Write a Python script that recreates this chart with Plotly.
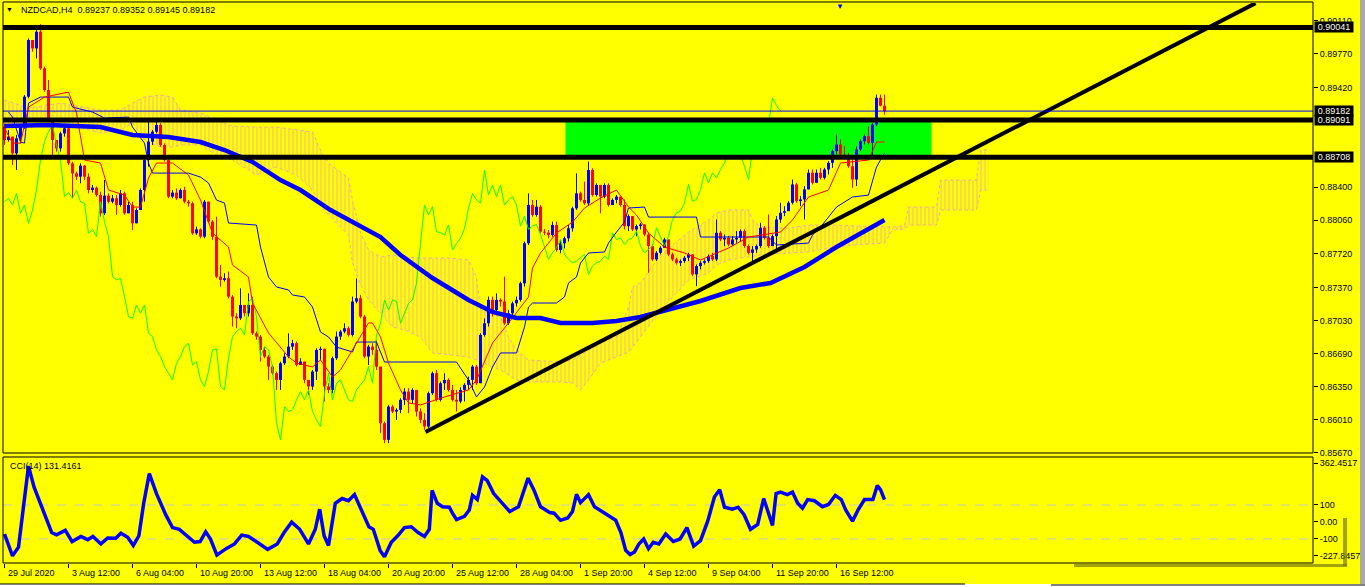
import plotly.graph_objects as go

# ---------------- data ----------------
first_open = 0.89022
closes = [
    0.88885, 0.88919, 0.88748, 0.88902, 0.89022, 0.89330, 0.89912, 0.89826, 0.89997, 0.89621,
    0.89398, 0.89090, 0.88885, 0.88799, 0.88953, 0.89005, 0.88645, 0.88542, 0.88508, 0.88621,
    0.88508, 0.88371, 0.88395, 0.88320, 0.88132, 0.88313, 0.88251, 0.88286, 0.88217, 0.88337,
    0.88132, 0.88217, 0.88029, 0.88166, 0.88371, 0.88679, 0.88868, 0.88970, 0.89039, 0.88833,
    0.88679, 0.88303, 0.88344, 0.88286, 0.88371, 0.88251, 0.88234, 0.87926, 0.87967, 0.87892,
    0.88251, 0.88046, 0.87892, 0.87481, 0.87447, 0.87464, 0.87276, 0.87071, 0.87053, 0.87190,
    0.87105, 0.87190, 0.86899, 0.86865, 0.86728, 0.86660, 0.86557, 0.86489, 0.86420, 0.86591,
    0.86660, 0.86762, 0.86797, 0.86574, 0.86608, 0.86420, 0.86352, 0.86506, 0.86728, 0.86740,
    0.86352, 0.86317, 0.86643, 0.86865, 0.86917, 0.86951, 0.86882, 0.87225, 0.87259, 0.87071,
    0.86660, 0.86762, 0.86728, 0.86557, 0.85975, 0.85804, 0.86146, 0.86095, 0.86112, 0.86215,
    0.86300, 0.86215, 0.86317, 0.86095, 0.86009, 0.85941, 0.86283, 0.86489, 0.86215, 0.86386,
    0.86420, 0.86317, 0.86215, 0.86198, 0.86317, 0.86369, 0.86420, 0.86557, 0.86386, 0.86882,
    0.87002, 0.87242, 0.87139, 0.87242, 0.87225, 0.87002, 0.87105, 0.87207, 0.87242, 0.87413,
    0.87824, 0.88217, 0.88115, 0.88200, 0.87943, 0.87933, 0.87909, 0.88012, 0.87755, 0.87824,
    0.87875, 0.87978, 0.88183, 0.88337, 0.88269, 0.88234, 0.88577, 0.88320, 0.88423, 0.88303,
    0.88423, 0.88217, 0.88269, 0.88303, 0.88217, 0.88000, 0.88103, 0.87966, 0.88000, 0.88017,
    0.87914, 0.87795, 0.87658, 0.87726, 0.87777, 0.87863, 0.87709, 0.87658, 0.87623, 0.87641,
    0.87675, 0.87709, 0.87504, 0.87589, 0.87623, 0.87641, 0.87692, 0.87658, 0.87931, 0.87863,
    0.87880, 0.87812, 0.87863, 0.87880, 0.87949, 0.87795, 0.87726, 0.87760, 0.87795, 0.87983,
    0.87880, 0.87795, 0.87897, 0.88068, 0.88137, 0.88154, 0.88240, 0.88428, 0.88257, 0.88274,
    0.88377, 0.88548, 0.88445, 0.88548, 0.88496, 0.88582, 0.88650, 0.88770, 0.88838, 0.88736,
    0.88726, 0.88616, 0.88479, 0.88787, 0.88873, 0.88924, 0.88856, 0.89044, 0.89318, 0.89237,
    0.89182,
]
highs = [
    0.89056, 0.88987, 0.88902, 0.88936, 0.89039, 0.89347, 0.89929, 0.89877, 0.90049, 0.90076,
    0.89638, 0.89501, 0.88987, 0.88885, 0.88970, 0.89022, 0.89039, 0.88662, 0.88560, 0.88645,
    0.88628, 0.88542, 0.88423, 0.88406, 0.88354, 0.88474, 0.88337, 0.88320, 0.88320, 0.88371,
    0.88354, 0.88251, 0.88251, 0.88183, 0.88388, 0.88696, 0.89090, 0.88987, 0.89107, 0.89056,
    0.88850, 0.88696, 0.88371, 0.88388, 0.88388, 0.88406, 0.88269, 0.88251, 0.87995, 0.87978,
    0.88269, 0.88251, 0.88063, 0.88097, 0.87601, 0.87516, 0.87533, 0.87293, 0.87105, 0.87361,
    0.87190, 0.87310, 0.87276, 0.86917, 0.86882, 0.86762, 0.86677, 0.86574, 0.86506, 0.86608,
    0.86694, 0.86899, 0.86831, 0.86814, 0.86643, 0.86608, 0.86420, 0.86523, 0.86745, 0.86762,
    0.86728, 0.86386, 0.86660, 0.86917, 0.86934, 0.87002, 0.86968, 0.87276, 0.87464, 0.87293,
    0.87088, 0.86780, 0.86797, 0.86831, 0.86386, 0.85992, 0.86163, 0.86163, 0.86129, 0.86232,
    0.86335, 0.86335, 0.86335, 0.86232, 0.86129, 0.86078, 0.86300, 0.86506, 0.86523, 0.86403,
    0.86489, 0.86437, 0.86369, 0.86317, 0.86345, 0.86386, 0.86454, 0.86574, 0.86574, 0.86899,
    0.87053, 0.87276, 0.87276, 0.87310, 0.87259, 0.87481, 0.87139, 0.87225, 0.87276, 0.87430,
    0.87841, 0.88337, 0.88269, 0.88269, 0.88217, 0.87971, 0.87960, 0.88046, 0.88046, 0.87858,
    0.87892, 0.88012, 0.88200, 0.88542, 0.88354, 0.88457, 0.88662, 0.88594, 0.88440, 0.88423,
    0.88440, 0.88440, 0.88286, 0.88320, 0.88303, 0.88274, 0.88120, 0.88068, 0.88017, 0.88034,
    0.88017, 0.87931, 0.87812, 0.87743, 0.87795, 0.87880, 0.87863, 0.87726, 0.87675, 0.87658,
    0.87692, 0.87726, 0.87709, 0.87606, 0.87641, 0.87658, 0.87709, 0.87726, 0.88068, 0.87949,
    0.87914, 0.87897, 0.87897, 0.87949, 0.87966, 0.87966, 0.87812, 0.87795, 0.87812, 0.88034,
    0.88000, 0.88120, 0.87914, 0.88103, 0.88240, 0.88205, 0.88257, 0.88479, 0.88445, 0.88308,
    0.88411, 0.88582, 0.88582, 0.88582, 0.88599, 0.88599, 0.88667, 0.88787, 0.88941, 0.88890,
    0.88821, 0.88753, 0.88685, 0.88821, 0.88890, 0.88941, 0.89027, 0.89061, 0.89352, 0.89352,
    0.89352,
]
lows = [
    0.88833, 0.88868, 0.88628, 0.88577, 0.88850, 0.89000, 0.89313, 0.89792, 0.89723, 0.89604,
    0.89381, 0.89073, 0.88714, 0.88765, 0.88765, 0.88919, 0.88628, 0.88286, 0.88474, 0.88440,
    0.88474, 0.88337, 0.88344, 0.88303, 0.88097, 0.88115, 0.88234, 0.88234, 0.88115, 0.88200,
    0.88115, 0.88149, 0.87961, 0.88029, 0.88166, 0.88251, 0.88611, 0.88833, 0.88953, 0.88816,
    0.88662, 0.88286, 0.88286, 0.88269, 0.88286, 0.88234, 0.88200, 0.87909, 0.87909, 0.87875,
    0.87875, 0.88029, 0.87858, 0.87464, 0.87379, 0.87430, 0.87259, 0.86968, 0.86951, 0.87036,
    0.87071, 0.87071, 0.86882, 0.86831, 0.86608, 0.86643, 0.86420, 0.86472, 0.86317, 0.86317,
    0.86574, 0.86643, 0.86728, 0.86557, 0.86574, 0.86386, 0.86266, 0.86317, 0.86420, 0.86626,
    0.86198, 0.86283, 0.86283, 0.86626, 0.86831, 0.86899, 0.86865, 0.86865, 0.87207, 0.87053,
    0.86643, 0.86574, 0.86677, 0.86523, 0.85873, 0.85770, 0.85770, 0.86078, 0.86009, 0.86078,
    0.86163, 0.86078, 0.86180, 0.86044, 0.85975, 0.85907, 0.85924, 0.86266, 0.86198, 0.86198,
    0.86317, 0.86300, 0.86198, 0.86095, 0.86180, 0.86198, 0.86317, 0.86317, 0.86369, 0.86386,
    0.86865, 0.86968, 0.87071, 0.87105, 0.87173, 0.86985, 0.86985, 0.87071, 0.87173, 0.87225,
    0.87379, 0.87806, 0.88097, 0.88097, 0.87926, 0.87909, 0.87875, 0.87892, 0.87738, 0.87721,
    0.87772, 0.87841, 0.87943, 0.88166, 0.88251, 0.88217, 0.88217, 0.88303, 0.88303, 0.88132,
    0.88286, 0.88200, 0.88217, 0.88234, 0.88200, 0.87966, 0.87949, 0.87949, 0.87897, 0.87966,
    0.87897, 0.87521, 0.87641, 0.87641, 0.87709, 0.87777, 0.87692, 0.87641, 0.87606, 0.87589,
    0.87623, 0.87641, 0.87487, 0.87384, 0.87555, 0.87606, 0.87623, 0.87641, 0.87641, 0.87846,
    0.87795, 0.87795, 0.87795, 0.87829, 0.87846, 0.87777, 0.87709, 0.87606, 0.87726, 0.87777,
    0.87863, 0.87777, 0.87795, 0.87760, 0.88034, 0.88103, 0.88154, 0.88223, 0.88240, 0.88205,
    0.88068, 0.88377, 0.88428, 0.88445, 0.88479, 0.88479, 0.88531, 0.88599, 0.88736, 0.88719,
    0.88702, 0.88599, 0.88394, 0.88411, 0.88770, 0.88839, 0.88839, 0.88719, 0.89027, 0.89232,
    0.89145,
]

tenkan_bar = [0, 2, 4, 6, 10, 16, 18, 20, 24, 26, 30, 32, 34, 36, 38, 42, 46, 49, 52, 56,
              57, 61, 62, 66, 71, 73, 77, 79, 82, 84, 88, 91, 92, 94, 96, 99, 101, 104, 110, 116,
              118, 122, 126, 129, 131, 132, 134, 138, 142, 145, 149, 153, 156, 158, 161, 165, 170, 174, 177, 181,
              186, 194, 197, 201, 206, 209, 216, 218, 220]
tenkan_val = [0.89007, 0.88853, 0.88853, 0.89223, 0.89326, 0.89377, 0.89161, 0.88679, 0.88648, 0.88371,
              0.88319, 0.88196, 0.88196, 0.88494, 0.88648, 0.88648, 0.88525, 0.88268, 0.87929, 0.87785,
              0.87600, 0.87477, 0.87210, 0.86902, 0.86656, 0.86594, 0.86553, 0.86625, 0.86450, 0.86522,
              0.86799, 0.87005, 0.87005, 0.86861, 0.86594, 0.86317, 0.86183, 0.86163, 0.86245, 0.86317,
              0.86419, 0.86799, 0.87005, 0.87169, 0.87272, 0.87570, 0.87724, 0.87929, 0.88042, 0.88186,
              0.88289, 0.88371, 0.88196, 0.88114, 0.87929, 0.87785, 0.87724, 0.87652, 0.87703, 0.87775,
              0.87888, 0.87939, 0.88063, 0.88299, 0.88371, 0.88648, 0.88679, 0.88864, 0.88864]

kijun_bar = [1, 2, 4, 5, 6, 9, 16, 17, 22, 25, 31, 32, 35, 36, 37, 46, 49, 51, 53, 55,
             56, 63, 64, 66, 68, 71, 72, 75, 77, 79, 81, 83, 87, 88, 93, 94, 95, 113, 116, 118,
             120, 122, 124, 128, 130, 131, 132, 138, 140, 141, 143, 144, 146, 150, 151, 153, 155, 156, 160, 161,
             173, 174, 191, 193, 201, 202, 204, 206, 208, 212, 216, 218, 220]
kijun_val = [0.89172, 0.89120, 0.88864, 0.88853, 0.89264, 0.89326, 0.89326, 0.89223, 0.89172, 0.89110,
             0.89120, 0.89018, 0.88853, 0.88648, 0.88545, 0.88545, 0.88504, 0.88443, 0.88268, 0.88237,
             0.88032, 0.88011, 0.87785, 0.87477, 0.87375, 0.87344, 0.87292, 0.87272, 0.87169, 0.86912,
             0.86861, 0.86758, 0.86707, 0.86809, 0.86809, 0.86707, 0.86604, 0.86604, 0.86419, 0.86245,
             0.86347, 0.86553, 0.86697, 0.86697, 0.86964, 0.87169, 0.87210, 0.87210, 0.87272, 0.87416,
             0.87477, 0.87621, 0.87724, 0.87734, 0.87826, 0.87939, 0.88042, 0.88186, 0.88196, 0.88093,
             0.88093, 0.87888, 0.87888, 0.87806, 0.87826, 0.87908, 0.87991, 0.88093, 0.88196, 0.88299,
             0.88319, 0.88607, 0.88751]

ma_bar = [0, 11, 24, 32, 41, 49, 55, 62, 69, 74, 81.5, 94, 99, 107, 116, 122, 128, 134, 139, 147,
          153, 159, 174, 184, 191.5, 200, 208, 216.5, 220]
ma_val = [0.89028, 0.89038, 0.89018, 0.88936, 0.88915, 0.88864, 0.88782, 0.88660, 0.88473, 0.88371,
          0.88165, 0.87888, 0.87703, 0.87467, 0.87241, 0.87118, 0.87056, 0.87056, 0.87005, 0.87005,
          0.87025, 0.87066, 0.87231, 0.87364, 0.87416, 0.87580, 0.87785, 0.87991, 0.88063]

cloud_bar = [0, 6, 14, 24, 29, 32, 35, 39, 42, 44, 49, 53, 57, 63, 68, 73, 77, 79, 81, 86,
             87, 89, 91, 94, 97, 100, 104, 107, 111, 116, 118, 119, 124, 126, 128, 131, 139, 142, 144, 146,
             149, 153, 156, 157, 159, 164, 171, 176, 178, 181, 186, 187, 189, 196, 201, 206, 212, 220, 222, 225,
             226, 233, 234, 243, 244, 246]
cloud_top = [0.89295, 0.89213, 0.89264, 0.89192, 0.89192, 0.89264, 0.89326, 0.89346, 0.89326, 0.89192,
             0.89161, 0.89090, 0.89028, 0.89018, 0.89018, 0.88987, 0.88966, 0.88782, 0.88648, 0.88494,
             0.88268, 0.87929, 0.87755, 0.87683, 0.87703, 0.87683, 0.87672, 0.87672, 0.87672, 0.87652,
             0.87477, 0.87138, 0.87066, 0.86861, 0.86727, 0.86625, 0.86604, 0.86625, 0.86676, 0.86727,
             0.86799, 0.86861, 0.87169, 0.87375, 0.87416, 0.87703, 0.87939, 0.88063, 0.88134, 0.88165,
             0.88165, 0.88063, 0.87991, 0.87980, 0.88011, 0.88011, 0.88001, 0.87991, 0.87991, 0.88001,
             0.88196, 0.88196, 0.88473, 0.88473, 0.88782, 0.88782]
cloud_bot = [0.89038, 0.89090, 0.89069, 0.88956, 0.88987, 0.89059, 0.88884, 0.88812, 0.88812, 0.88833,
             0.88833, 0.88730, 0.88679, 0.88525, 0.88607, 0.88525, 0.88371, 0.88217, 0.88114, 0.87908,
             0.87621, 0.87395, 0.87241, 0.87107, 0.86964, 0.86933, 0.86861, 0.86697, 0.86676, 0.86656,
             0.86625, 0.86604, 0.86522, 0.86471, 0.86419, 0.86399, 0.86399, 0.86389, 0.86317, 0.86419,
             0.86594, 0.86656, 0.86707, 0.86758, 0.86861, 0.87138, 0.87446, 0.87518, 0.87600, 0.87652,
             0.87683, 0.87693, 0.87703, 0.87724, 0.87734, 0.87775, 0.87806, 0.87826, 0.87960, 0.87970,
             0.88011, 0.88011, 0.88165, 0.88165, 0.88371, 0.88371]

chikou_shift = 26

cci_bar = [0, 2, 3.5, 4.5, 6, 7.4, 9.6, 11.8, 13, 15.2,
           16.9, 19.1, 20.8, 22.1, 24.1, 25.8, 27.8, 29.1, 30.8, 32.2,
           33.6, 34.8, 36.2, 38, 40.3, 42, 43.7, 45.9, 47.5, 48.9,
           50.3, 51.5, 53.1, 55.4, 57.5, 59.3, 61, 63.2, 65.8, 68.2,
           69.9, 71.8, 73.8, 76, 77.7, 78.8, 79.9, 81, 82.7, 84.4,
           86, 87.5, 89.4, 91.1, 92.2, 93.9, 95, 96.7, 98.3, 100,
           101.7, 103.4, 105, 106.2, 106.9, 108.2, 109.5, 111.2, 112, 113,
           115, 116.2, 117, 118.2, 119.5, 120.7, 122.3, 124.5, 126.3, 128.5,
           129.5, 130.9, 132.4, 134, 136.3, 137.4, 139, 140.8, 142, 143,
           144, 145.3, 146, 147.5, 149.7, 151.3, 152.8, 154.1, 155.3, 156.4,
           157.5, 158.6, 159.8, 161, 162.2, 163.6, 165.3, 167.2, 168.9, 170.6,
           172.3, 174, 175.8, 177.5, 178.8, 180, 182, 183.4, 184.9, 186.5,
           188.3, 189.8, 190.9, 192, 192.9, 194, 195.7, 197, 198.3, 199.5,
           200.8, 202.5, 204.5, 206, 207.7, 209.2, 210.3, 212, 213.4, 215,
           217.1, 218.2, 219, 220]
cci_val = [-71, -199, -148, 33, 329, 205, 71, -62, -75, -49,
           -115, -85, -104, -85, -129, -94, -96, -66, -90, -138,
           -81, 110, 285, 167, 43, -33, -43, -87, -119, -115,
           -58, -100, -195, -157, -129, -77, -85, -119, -161, -129,
           -62, -1, -43, -129, -43, 75, -81, -138, 110, 138,
           125, 161, 62, -28, -43, -167, -205, -119, -81, -33,
           -28, -62, -85, -43, 186, 110, 90, 87, 52, 14,
           33, 71, 157, 132, 266, 243, 167, 110, 62, 90,
           167, 258, 186, 90, 56, 52, 10, 24, 62, 163,
           114, 148, 161, 90, 56, 33, 10, -62, -167, -191,
           -176, -129, -100, -157, -119, -129, -71, -115, -100, -33,
           -142, -110, 5, 148, 190, 87, 75, 87, 43, -43,
           -14, 138, 62, -20, 167, 176, 161, 176, 110, 81,
           132, 125, 90, 103, 157, 132, 71, 5, 71, 132,
           132, 214, 190, 131.4161]
cci_levels = [100, -100]

level_prices = [0.90041, 0.89091, 0.88708]
bid_price = 0.89182
zone_bars = [140.25, 231.75]
zone_prices = [0.88708, 0.89091]
trend_bars = [105.25, 312.75]
trend_prices = [0.85885, 0.90291]

price_ticks = [0.90110, 0.89770, 0.89420, 0.88400, 0.88060, 0.87720, 0.87370,
               0.87030, 0.86690, 0.86350, 0.86010, 0.85670]
cci_tick_pos = [347, 100, 0, -100, -200]
cci_tick_txt = ["362.4517", "100", "0.00", "-100", "-227.8457"]
time_bars = [0, 16, 32, 48, 64, 80, 96, 112, 128, 144, 160, 176, 192, 208]
time_labels = ["29 Jul 2020", "3 Aug 12:00", "6 Aug 04:00", "10 Aug 20:00", "13 Aug 12:00",
               "18 Aug 04:00", "20 Aug 20:00", "25 Aug 12:00", "28 Aug 04:00", "1 Sep 20:00",
               "4 Sep 12:00", "9 Sep 04:00", "11 Sep 20:00", "16 Sep 12:00"]
title_text = "NZDCAD,H4\u00a0\u00a00.89237 0.89352 0.89145 0.89182"
cci_title = "CCI(14) 131.4161"

# ---------------- derived ----------------
n = len(closes)
opens = [first_open] + closes[:-1]
hi = [max(h, o, c) for h, o, c in zip(highs, opens, closes)]
lo = [min(l, o, c) for l, o, c in zip(lows, opens, closes)]
up = [i for i in range(n) if closes[i] >= opens[i]]
dn = [i for i in range(n) if closes[i] < opens[i]]


def segs(idx, a, b, minh=0.0):
    xs, ys = [], []
    for i in idx:
        y0, y1 = a[i], b[i]
        if abs(y1 - y0) < minh:
            y1 = y0 + minh
        xs += [i, i, None]
        ys += [y0, y1, None]
    return xs, ys


BLUE = "#0000FF"
RED = "#FF0000"
YEL = "#FFFF00"
FONT = "Liberation Sans"
KUMO = "#EFA6AE"

fig = go.Figure()

# cloud
fig.add_trace(go.Scatter(x=cloud_bar, y=cloud_bot, mode="lines",
                         line=dict(color=KUMO, width=1, dash="dot"),
                         hoverinfo="skip", showlegend=False))
fig.add_trace(go.Scatter(x=cloud_bar, y=cloud_top, mode="lines",
                         line=dict(color=KUMO, width=1, dash="dot"),
                         fill="tonexty", fillcolor="rgba(0,0,0,0)",
                         fillpattern=dict(shape="|", fgcolor=KUMO, fgopacity=0.85,
                                          bgcolor="rgba(0,0,0,0)", size=4, solidity=0.25),
                         hoverinfo="skip", showlegend=False))

# candles
for idx, col in ((up, BLUE), (dn, RED)):
    wx, wy = segs(idx, lo, hi)
    fig.add_trace(go.Scatter(x=wx, y=wy, mode="lines", line=dict(color=col, width=1),
                             hoverinfo="skip", showlegend=False))
    bx, by = segs(idx, opens, closes, minh=0.00003)
    fig.add_trace(go.Scatter(x=bx, y=by, mode="lines", line=dict(color=col, width=3),
                             hoverinfo="skip", showlegend=False))

# ichimoku lines
fig.add_trace(go.Scatter(x=[i - chikou_shift for i in range(chikou_shift, n)],
                         y=closes[chikou_shift:], mode="lines",
                         line=dict(color="#00FF00", width=1), hoverinfo="skip", showlegend=False))
fig.add_trace(go.Scatter(x=kijun_bar, y=kijun_val, mode="lines",
                         line=dict(color=BLUE, width=1), hoverinfo="skip", showlegend=False))
fig.add_trace(go.Scatter(x=tenkan_bar, y=tenkan_val, mode="lines",
                         line=dict(color=RED, width=1), hoverinfo="skip", showlegend=False))
# moving average
fig.add_trace(go.Scatter(x=ma_bar, y=ma_val, mode="lines",
                         line=dict(color=BLUE, width=4.5), hoverinfo="skip", showlegend=False))
# trend line
fig.add_trace(go.Scatter(x=trend_bars, y=trend_prices, mode="lines",
                         line=dict(color="#000000", width=4), hoverinfo="skip", showlegend=False))

# CCI
fig.add_trace(go.Scatter(x=cci_bar, y=cci_val, mode="lines", yaxis="y2",
                         line=dict(color=BLUE, width=3.5), hoverinfo="skip", showlegend=False))

shapes = []
# green zone
shapes.append(dict(type="rect", xref="x", yref="y", x0=zone_bars[0], x1=zone_bars[1],
                   y0=zone_prices[0], y1=zone_prices[1], fillcolor="#00FF00",
                   line=dict(width=0), layer="below"))
# bid line
shapes.append(dict(type="line", xref="paper", yref="y", x0=0, x1=1, y0=bid_price, y1=bid_price,
                   line=dict(color=BLUE, width=1), layer="above"))
# level lines
for p in level_prices:
    shapes.append(dict(type="line", xref="paper", yref="y", x0=0, x1=1, y0=p, y1=p,
                       line=dict(color="#000000", width=5), layer="above"))
# cci levels
for v in cci_levels:
    shapes.append(dict(type="line", xref="paper", yref="y2", x0=0, x1=1, y0=v, y1=v,
                       line=dict(color="#C8C8C8", width=1, dash="dash"), layer="below"))

MAIN_BOT = 0.19643
CCI_TOP = 0.189286
# pane frames
shapes.append(dict(type="rect", xref="paper", yref="paper", x0=0, x1=1, y0=MAIN_BOT, y1=1.0018,
                   line=dict(color="#000000", width=1), layer="above"))
shapes.append(dict(type="rect", xref="paper", yref="paper", x0=0, x1=1, y0=0, y1=CCI_TOP,
                   line=dict(color="#000000", width=1), layer="above"))
# shadow near CCI scale
shapes.append(dict(type="rect", xref="paper", yref="paper", x0=1.0229, x1=1.0260, y0=-0.0054, y1=0.0804,
                   fillcolor="#7c7c10", line=dict(width=0), opacity=0.7))
shapes.append(dict(type="rect", xref="paper", yref="paper", x0=0.8176, x1=1.0260, y0=-0.0071, y1=-0.0018,
                   fillcolor="#7c7c10", line=dict(width=0), opacity=0.7))
# right grey strip
shapes.append(dict(type="rect", xref="paper", yref="paper", x0=1.0359, x1=1.0420, y0=-0.0450, y1=1.01,
                   fillcolor="#A8A8A8", line=dict(width=0)))
# bottom strip
shapes.append(dict(type="rect", xref="paper", yref="paper", x0=-0.01, x1=1.0420, y0=-0.0450, y1=-0.0375,
                   fillcolor="#FFFFFF", line=dict(width=0)))
shapes.append(dict(type="line", xref="paper", yref="paper", x0=-0.01, x1=0.7344, y0=-0.0375, y1=-0.0375,
                   line=dict(color="#000000", width=1)))
shapes.append(dict(type="line", xref="paper", yref="paper", x0=0.8000, x1=1.0420, y0=-0.0393, y1=-0.0393,
                   line=dict(color="#000000", width=1)))

ann = []
ann.append(dict(xref="paper", yref="paper", x=0.0046, y=0.9875, text="\u25bc", showarrow=False,
                xanchor="center", yanchor="middle", font=dict(size=7, color="#000000", family=FONT)))
ann.append(dict(xref="paper", yref="paper", x=0.0122, y=0.9875, text=title_text, showarrow=False,
                xanchor="left", yanchor="middle", font=dict(size=9, color="#000000", family=FONT)))
ann.append(dict(xref="paper", yref="paper", x=0.00382, y=0.1732, text=cci_title, showarrow=False,
                xanchor="left", yanchor="middle", font=dict(size=9, color="#000000", family=FONT)))
ann.append(dict(xref="paper", yref="paper", x=0.6389, y=1.0054, text="\u25bc", showarrow=False,
                xanchor="center", yanchor="top", font=dict(size=8, color=BLUE, family=FONT)))
for b, t in zip(time_bars, time_labels):
    ann.append(dict(xref="x", yref="paper", x=b, y=-0.0179, text=t, showarrow=False,
                    xanchor="left", yanchor="middle", xshift=1,
                    font=dict(size=9, color="#000000", family=FONT)))
for p in [bid_price] + level_prices:
    ann.append(dict(xref="paper", yref="y", x=1.0008, y=p, text=f"{p:.5f}", showarrow=False,
                    xanchor="left", yanchor="middle", bgcolor="#000000", borderpad=0, width=38,
                    align="center", font=dict(size=9, color="#FFFFF0", family=FONT)))

fig.update_layout(
    width=1365, height=587,
    margin=dict(l=3, r=52, t=3, b=24),
    paper_bgcolor=YEL, plot_bgcolor=YEL,
    font=dict(family=FONT, size=9, color="#000000"),
    showlegend=False,
    xaxis=dict(domain=[0, 1], range=[-0.375, 327.125], anchor="y2", showgrid=False, zeroline=False,
               tickmode="array", tickvals=time_bars, ticks="outside", ticklen=4, tickcolor="#000000",
               showticklabels=False, showline=False, fixedrange=True),
    yaxis=dict(domain=[MAIN_BOT, 1], range=[0.85669, 0.902925], side="right", anchor="x",
               showgrid=False, zeroline=False, tickmode="array", tickvals=price_ticks,
               ticktext=[f"{v:.5f}" for v in price_ticks], ticks="outside", ticklen=4,
               tickcolor="#000000", tickfont=dict(size=9, family=FONT), showline=False),
    yaxis2=dict(domain=[0, CCI_TOP], range=[-241.2, 382.4], side="right", anchor="x",
                showgrid=False, zeroline=False, tickmode="array", tickvals=cci_tick_pos,
                ticktext=cci_tick_txt, ticks="outside", ticklen=4, tickcolor="#000000",
                tickfont=dict(size=9, family=FONT), showline=False),
    shapes=shapes,
    annotations=ann,
)

fig.write_html("out.html", config={"displayModeBar": False},
               post_script="document.body.style.margin='0';document.body.style.overflow='hidden';")
